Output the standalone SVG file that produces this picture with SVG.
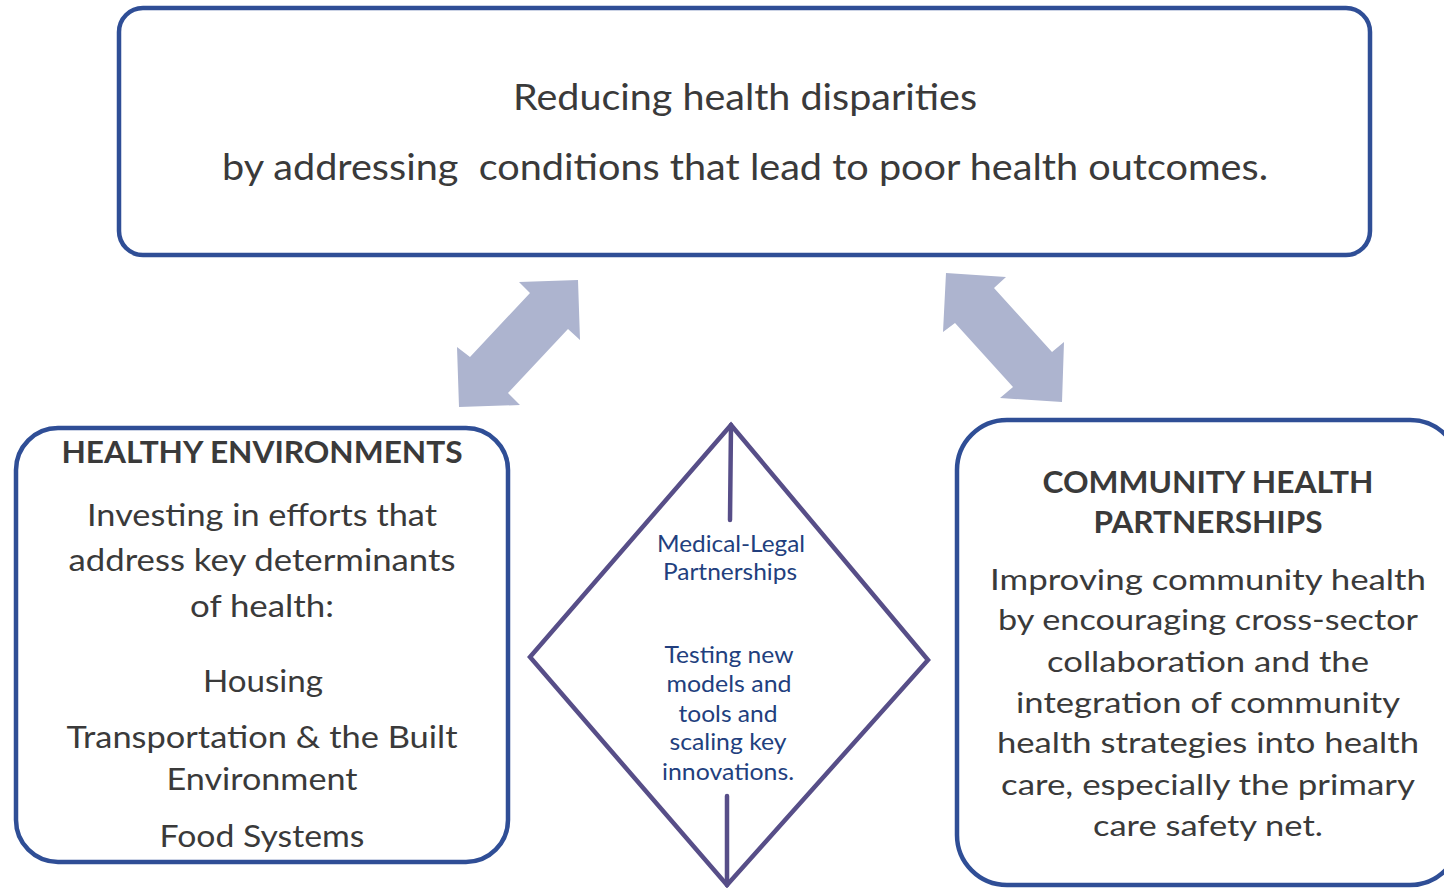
<svg xmlns="http://www.w3.org/2000/svg" width="1444" height="888" viewBox="0 0 1444 888">
<style>
.box{fill:#fff;stroke:#2F4E96;stroke-width:4.5}
.t{font-family:Lato,"Liberation Sans",sans-serif;fill:#3A3A3A;text-anchor:middle}
.h{font-weight:bold}
.dt{font-family:Lato,"Liberation Sans",sans-serif;fill:#223F7E;text-anchor:middle;font-size:23px}
.dia{fill:#fff;stroke:#574E88;stroke-width:4.5;stroke-linejoin:miter}
.dl{stroke:#574E88;stroke-width:4.5;stroke-linecap:round}
.arr{fill:#ADB4CF}
</style>
<rect width="1444" height="888" fill="#fff"/>
<g id="connectors">
<polygon class="arr" points="578,280 580,340 568,329 508,393 520,405 459,407 457,347 470,357 530,293 519,282"/>
<polygon class="arr" points="946,273 1006,277 994,288 1052,352 1064,342 1062,402 1000,398 1013,387 955,323 943,332"/>
</g>
<g id="top-goal">
<rect class="box" x="119" y="8" width="1251" height="247" rx="24"/>
<text class="t" x="745" y="110" font-size="37" textLength="464" lengthAdjust="spacingAndGlyphs">Reducing health disparities</text>
<text class="t" x="745" y="180" font-size="37" textLength="1046" lengthAdjust="spacingAndGlyphs" xml:space="preserve">by addressing  conditions that lead to poor health outcomes.</text>
</g>
<g id="healthy-environments">
<rect class="box" x="16" y="428" width="492" height="434" rx="42"/>
<text class="t h" x="262" y="463" font-size="30" textLength="401" lengthAdjust="spacingAndGlyphs">HEALTHY ENVIRONMENTS</text>
<text class="t" x="262" y="526" font-size="31.5" textLength="350" lengthAdjust="spacingAndGlyphs">Investing in efforts that</text>
<text class="t" x="262" y="571" font-size="31.5" textLength="387" lengthAdjust="spacingAndGlyphs">address key determinants</text>
<text class="t" x="262" y="617" font-size="31.5" textLength="144" lengthAdjust="spacingAndGlyphs">of health:</text>
<text class="t" x="263" y="692" font-size="31.5" textLength="120" lengthAdjust="spacingAndGlyphs">Housing</text>
<text class="t" x="262" y="748" font-size="31.5" textLength="391" lengthAdjust="spacingAndGlyphs">Transportation &amp; the Built</text>
<text class="t" x="262" y="790" font-size="31.5" textLength="191" lengthAdjust="spacingAndGlyphs">Environment</text>
<text class="t" x="262" y="847" font-size="31.5" textLength="205" lengthAdjust="spacingAndGlyphs">Food Systems</text>
</g>
<g id="medical-legal">
<polygon class="dia" points="731,425 928,660 727,885 530,657"/>
<line class="dl" x1="731" y1="425" x2="730" y2="520"/>
<line class="dl" x1="727" y1="796" x2="727" y2="885"/>
<text class="dt" x="731" y="552" textLength="148" lengthAdjust="spacingAndGlyphs">Medical-Legal</text>
<text class="dt" x="730" y="580" textLength="134" lengthAdjust="spacingAndGlyphs">Partnerships</text>
<text class="dt" x="729" y="663" textLength="129" lengthAdjust="spacingAndGlyphs">Testing new</text>
<text class="dt" x="729" y="692" textLength="125" lengthAdjust="spacingAndGlyphs">models and</text>
<text class="dt" x="728" y="722" textLength="99" lengthAdjust="spacingAndGlyphs">tools and</text>
<text class="dt" x="728" y="750" textLength="117" lengthAdjust="spacingAndGlyphs">scaling key</text>
<text class="dt" x="728" y="780" textLength="132" lengthAdjust="spacingAndGlyphs">innovations.</text>
</g>
<g id="community-health">
<rect class="box" x="957" y="420" width="503" height="465" rx="50"/>
<text class="t h" x="1208" y="493" font-size="29.5" textLength="331" lengthAdjust="spacingAndGlyphs">COMMUNITY HEALTH</text>
<text class="t h" x="1208" y="533" font-size="29.5" textLength="229" lengthAdjust="spacingAndGlyphs">PARTNERSHIPS</text>
<text class="t" x="1208" y="590" font-size="29" textLength="436" lengthAdjust="spacingAndGlyphs">Improving community health</text>
<text class="t" x="1208" y="630" font-size="29" textLength="420" lengthAdjust="spacingAndGlyphs">by encouraging cross-sector</text>
<text class="t" x="1208" y="672" font-size="29" textLength="322" lengthAdjust="spacingAndGlyphs">collaboration and the</text>
<text class="t" x="1208" y="713" font-size="29" textLength="384" lengthAdjust="spacingAndGlyphs">integration of community</text>
<text class="t" x="1208" y="753" font-size="29" textLength="422" lengthAdjust="spacingAndGlyphs">health strategies into health</text>
<text class="t" x="1208" y="795" font-size="29" textLength="414" lengthAdjust="spacingAndGlyphs">care, especially the primary</text>
<text class="t" x="1208" y="836" font-size="29" textLength="230" lengthAdjust="spacingAndGlyphs">care safety net.</text>
</g>
</svg>
